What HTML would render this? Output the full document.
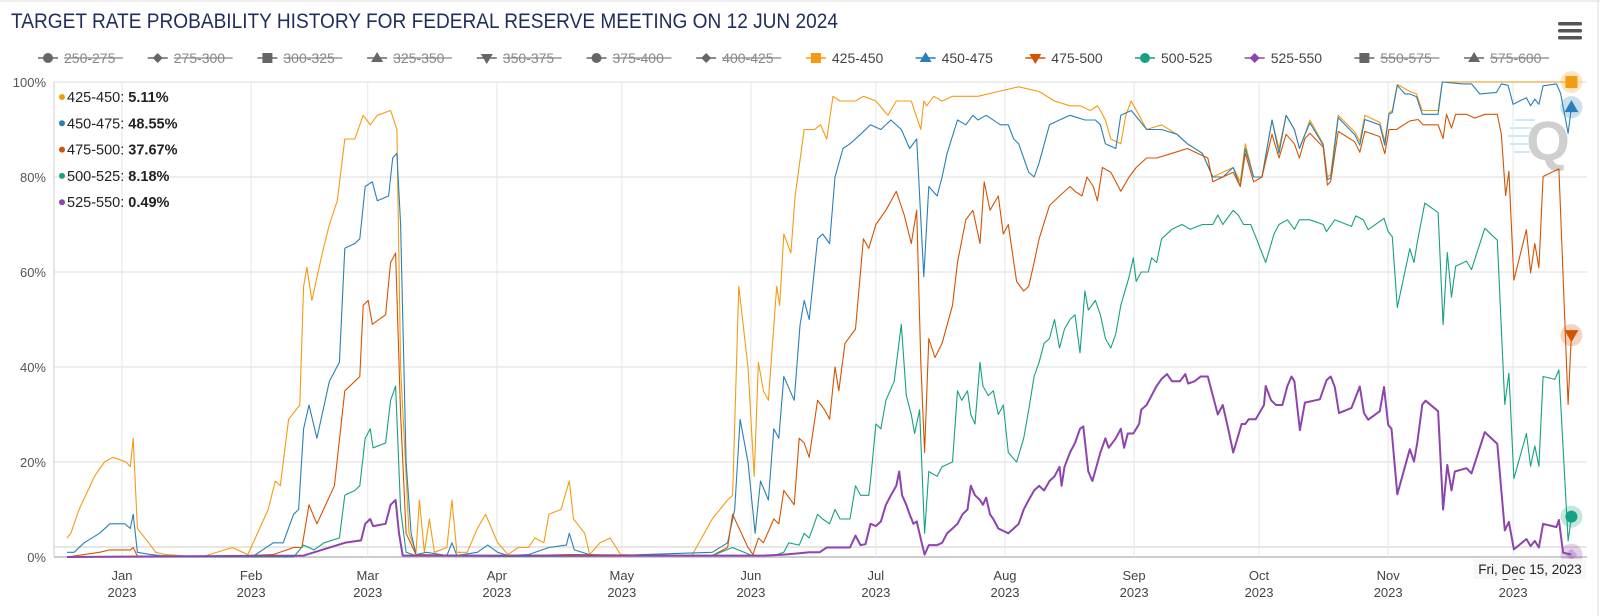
<!DOCTYPE html>
<html><head><meta charset="utf-8"><title>Target rate probability history</title>
<style>
html,body{margin:0;padding:0;background:#fff;}
svg{display:block;font-family:"Liberation Sans",sans-serif;}
</style></head>
<body>
<svg id="chart" width="1600" height="616" viewBox="0 0 1600 616" xmlns="http://www.w3.org/2000/svg">
<rect x="0" y="0" width="1600" height="616" fill="#fff"/>
<line x1="0" y1="1" x2="1600" y2="1" stroke="#ddd"/>
<line x1="1598" y1="0" x2="1598" y2="616" stroke="#ddd"/>
<text x="11" y="28" font-size="21" fill="#1f2d5c" textLength="827" lengthAdjust="spacingAndGlyphs">TARGET RATE PROBABILITY HISTORY FOR FEDERAL RESERVE MEETING ON 12 JUN 2024</text>
<g>
<rect x="1558" y="22" width="24" height="3.5" rx="1.5" fill="#555"/>
<rect x="1558" y="29" width="24" height="3.5" rx="1.5" fill="#555"/>
<rect x="1558" y="36" width="24" height="3.5" rx="1.5" fill="#555"/>
</g>
<g id="legend"></g>
<g id="grid"></g>
<g>
<text x="1548" y="160" font-size="56" font-weight="bold" fill="#cfcfcf" text-anchor="middle">Q</text>
<line x1="1515" y1="120" x2="1535" y2="120" stroke="#cde9f5" stroke-width="2"/>
<line x1="1510" y1="128" x2="1532" y2="128" stroke="#cde9f5" stroke-width="2"/>
<line x1="1508" y1="136" x2="1530" y2="136" stroke="#cde9f5" stroke-width="2"/>
<line x1="1510" y1="144" x2="1530" y2="144" stroke="#cde9f5" stroke-width="2"/>
<line x1="1514" y1="152" x2="1530" y2="152" stroke="#cde9f5" stroke-width="2"/>
</g>
<defs><clipPath id="plotclip"><rect x="54" y="78" width="1534" height="482"/></clipPath></defs>
<g id="series" clip-path="url(#plotclip)"></g>
<g id="markers"></g>
<g id="infobox"></g>
<g>
<rect x="1474" y="559" width="112" height="20" fill="#f7f7f7" opacity="0.95"/>
<text x="1530" y="574" font-size="13.5" fill="#222" text-anchor="middle">Fri, Dec 15, 2023</text>
</g>
</svg>
<script>
// ---- data ----
const monthLabels=["Jan","Feb","Mar","Apr","May","Jun","Jul","Aug","Sep","Oct","Nov","Dec"];
const monthStartDays=[0,31,59,90,120,151,181,212,243,273,304,334];
const yTicks=[0,20,40,60,80,100];
const legendLabels=["250-275","275-300","300-325","325-350","350-375","375-400","400-425","425-450","450-475","475-500","500-525","525-550","550-575","575-600"];
const legendActive=[false,false,false,false,false,false,false,true,true,true,true,true,false,false];
const infoLabels=["425-450","450-475","475-500","500-525","525-550"];
const infoValues=["5.11%","48.55%","37.67%","8.18%","0.49%"];

const d425=[-13.2,-12.3,-10.3,-6.6,-4.2,-2.2,1,2,2.7,3.7,6.4,8.1,10.5,19.1,26.5,30.2,35.1,36.8,38,40,42.7,43.6,44.4,45.6,48.1,49.8,51.7,53.5,55.9,57.9,59.6,61.3,64.5,66,66.9,68.9,70.6,71.4,72.6,73.8,75,78,79.2,80.4,82.9,85.3,87.3,90.2,92.7,95.1,97.6,99.1,101.3,102.5,105.4,107.4,108.4,111.1,112.3,114.8,117.2,119.7,129.5,136.8,141.7,145.4,146.6,148.1,150.3,151.8,152.8,154,155.2,157.2,157.9,158.9,160.6,161.6,163.8,166.3,167.7,169.2,170.7,172.4,173.6,176.1,178,181,182.9,183.9,185.9,189.5,191.8,192.5,193.2,194.9,196.9,199.4,205.5,210.4,215.3,220.2,223.9,227.6,230,232.5,234.2,234.9,236.1,237.4,239.8,241,242.3,244.2,246,249.6,253.3,255.8,259.4,261.9,264.3,266.8,268.5,269.7,271.7,273.7,276.1,277.8,279.5,281.5,282.7,284,285.2,288.4,289.4,290.2,292,296,297.2,298.4,302,303.2,304.2,305,306.2,309.2,310.8,312.2,316,317,348];
const v425=[4,5,10,17,20,21,20,19,25,6,3,1,0.5,0,2,0.5,10,16,15,29,32,57,61,54,64,70,75,88,88,93,91,93,94,90,40,5,1,12,1,8,1,2,12,1,1,6,9,3,0.5,2,2,4,3,9,10,16,8,5,0.5,3,4,0.5,0.2,0.3,8,12,13,57,40,17,41,35,33,57,53,68,64,76,90,90,91,88,97,96,96,96,97,96,94,93,96,96,90,96,95,97,96,97,97,98,99,98,96,95,95,94,95,94,92,88,87,93,96,93,90,91,89,87,85,80,81,82,79,87,80,80,92,86,93,90,86,89,92,87,80,80.5,93,89.5,87.5,93,91.5,87.5,93.5,94,99.5,98,97.5,94,94,100,100];

const d450=[-13.2,-11.5,-9.1,-5.4,-2.9,0.7,2,2.7,3.7,6.9,9.3,19.1,28.9,31.4,36.3,38.7,41.2,42.4,43.6,44.9,46.8,49.8,52.2,53.5,55.9,57.1,58.4,60.1,61.3,64,65,66,66.9,68.2,69.4,70.6,73.1,78,79.2,80.4,85.3,87.8,90.2,92.7,97.6,102.5,106.7,107.4,108.6,112.3,117.2,141.7,145.4,147.1,148.4,150.3,152,153.3,155.2,156.5,157.7,158.9,161.4,162.8,163.8,165,167,168.2,169.9,171.2,173.1,174.8,177.3,179.7,182.2,184.6,187.1,189.1,190.8,192.5,193.7,195.7,196.9,198.1,200.6,202.6,204.3,205.5,207.5,210.9,212.8,214.1,215.3,217.7,219,220.2,222.7,225.1,227.6,231.2,233.7,234.9,236.1,238.6,239.8,242.3,244.2,246,249.6,253.3,255.8,259.4,261.9,264.3,266.8,268.5,269.7,271.7,273.7,276.1,277.8,279.5,281.5,282.7,284,285.2,288.4,289.4,290.2,292,296,297.2,298.4,302,303.2,304.2,305,306.2,308,309.2,310.8,312.2,316,317,322,324,326,330,331.2,332.8,334,337.2,338.2,339.2,340.2,341.2,344.4,345.4,347.2,348];
const v450=[1,1,3,5,7,7,6,9,1,0.5,0.3,0,0.3,0.1,3,3,9,10,27,32,25,37,41,65,66,67,78,79,75,76,84,85,70,20,5,0.5,1,0.3,3,0.3,1,2.5,1,0.3,0.5,2,2.5,5,1.5,0.5,0.3,1,3,10,29,20,5,16,12,27,25,38,33,49,54,50,67,68,66,80,86,87,89,91,90,92,90,86,88,59,78,76,80,85,92,91,93,92,93,91,91,88,87,81,80,83,91,92,93,92,92,91,87,86,93,94,92,90,90,89,87,85,80,80,82,78,86,80,80,92,85,93,90,86,88.9,91.4,86.7,79.4,79.8,92.5,88.9,86.7,92.1,91,86.7,93.2,93.6,99.3,97.5,97.5,96.9,93.2,93.2,100,99.6,99.6,97.5,97.8,99.6,99.3,95.3,96.7,95,96.4,95.3,99.2,99.6,97.6,89.2,94.7];

const d475=[-13.2,-5.4,-2.9,2,2.7,3.7,19.1,36.3,41.2,43.2,44.9,46.8,51,53.5,55.9,57.1,57.9,59.1,60.1,63.3,64.5,65.7,66.9,68.2,70.6,92.7,107.4,141.7,145.4,146.6,150.3,151.5,152.8,154,156.5,157.7,158.9,161.4,162.6,163.8,165,167,168.7,169.9,171.2,172.1,173.6,176.1,178,179.3,181,183.4,185.9,187.8,189.5,190.8,191.8,192.7,193.7,195.2,196.9,199.4,200.6,202.6,204.3,206,207,208.4,210.4,211.6,212.8,214.8,216.5,217.7,219,220.2,222.7,225.1,227.6,228.8,230.5,231.7,233.2,234.2,235.4,237.4,239.8,241.8,243.5,246,248.4,252.1,255.8,258.2,260.7,261.9,264.3,266.8,268.5,269.7,271.7,273.7,276.1,277.8,279.5,281.5,282.7,284,285.2,288.4,289.4,290.2,292,296,297.2,298.4,302,303.2,304.2,306,309.2,311.2,312.4,316,317.2,318,319.2,320.2,322.8,324.8,327.2,330.2,331.2,332.2,333,334.2,337.2,338.2,339.2,340.2,341.2,345,347.2,348];
const v475=[0,1,1.5,1.5,2,0.2,0,0.5,2,2,11,7,15,35,37,38,53,54,49,51,62,64,30,5,0.5,0.2,0.5,0.3,2,9,2,0.5,4,3,8,7,14,11,25,24,21,33,31,29,40,35,45,48,67,65,70,73,77,72,66,73,41,22,46,42,45,53,62,71,73,66,79,73,76,68,70,58,56,57,62,67,74,76,78,77,76,80,78,75,82,81,77,80,82,84,84,85,86,85,84,79,80,81,78,85,79,80,89,84,89,87,84,88.1,89.2,86.3,78.3,79.1,89.6,87.4,85.2,89.6,88.5,84.9,90,90,91.8,92.1,91,91,88.1,93.2,90.3,93.2,93.2,92.4,93.2,93.2,88.9,76.1,81.2,58.3,68.9,59.8,66,60.9,80.1,81.7,32.1,46.7];

const d500=[-13.2,41.2,43.6,46.1,48.5,52.2,53.5,55.9,57.1,58.4,59.6,60.3,63.3,64.5,65.7,66.9,68.2,70.6,92.7,141.7,146.6,151.5,156.5,158.9,160.1,162.6,163.8,165,167,168.2,169.9,171.2,172.4,174.8,176.1,177.3,179.3,179.7,181,182.2,183.4,185.4,187.1,188.3,189.5,190.3,191.5,192.7,193.7,195.7,196.9,199.4,200.6,201.6,203,203.8,204.8,206,206.7,208,209.2,210.4,211.6,212.8,214.8,216.5,217.7,219,220.2,221.4,222.7,223.9,225.1,226.3,227.6,228.8,230,231.2,232,233.7,234.9,236.1,237.4,238.6,239.8,241.8,242.8,243.5,244.7,246.4,247.2,248.4,249.6,252.1,254.5,256.5,259.4,261.9,263.1,264.3,266.8,268,269.3,271,272.4,274.6,276.6,277.8,279.8,281.5,282.7,285.2,288.4,289.2,291.2,295.2,296.2,298,299.2,303,304,305,306.2,309.2,310.2,311,312.8,316,317.2,318.2,319.2,320.2,322.8,324,327.2,330.2,332,333,334.2,337.2,338.2,339.2,340.2,341.2,344,345,347.2,348];
const v500=[0,0,2.5,1.5,3,4,13,14,15,25,27,23,24,33,36,10,1,0.3,0.1,0.3,2,0.2,0.3,1,3,2.5,5,4,9,8,7,10,8,8,15,13,13,16,28,27,33,37,49,34,30,26,31,5,18,17,19,20,35,33,35,30,28,41,36,34,35,30,32,22,20,25,31,38,41,45,46,50,44,48,50,51,43,56,52,54,51,46,44,47,53,59,63,58,60,60,63,62,67,69,70,69,70,70,72,70,73,72,70,70,67,62,68,70,71,69,71,71,70,68.5,71,69.6,71.8,71,68.9,71.3,68.5,67.4,52.5,64.9,62,66.3,74.5,72.5,48.9,64.1,54.7,61.2,62.3,60.5,69.2,66.7,32.1,38.7,16.5,26,19.1,23.4,19.1,38,37.4,39.4,3.4,8.5];

const d525=[-13.2,43.6,53.5,55.9,57.4,58.4,59.6,60.3,63.3,64.5,65.7,66.5,67.4,151.5,154,158.9,162.6,165,167.5,169.2,172.4,174.8,176.1,177.3,178.5,179.7,181,182.2,183.4,184.6,185.9,186.6,187.3,188.3,189.1,190,190.8,192,192.7,193.7,195.7,196.9,198.1,199.4,200.6,201.8,203,203.8,204.8,206,206.7,207.5,208.4,209.2,210.4,212.8,214.1,215.3,216.5,217.7,219,220.2,221.4,222.7,223.9,225.1,225.6,226.3,227.6,228.8,230,230.8,232,233,234.9,236.1,236.9,238.6,239.8,240.6,241.5,242.8,243.5,244.2,244.7,246,247.2,248.4,249.6,250.9,252.1,254,255.3,256,257.5,259,260.7,261.9,263.1,264.3,265.6,266.8,267.5,268.8,269.7,270.5,272.2,274.2,274.6,275.9,277.1,278.6,279.8,280.8,281.5,282.8,284,287.6,289.2,290.2,291.2,292.2,295.2,297.2,298.2,299.2,302,303,304,304.8,306.2,309.2,310.2,311,312.2,313,316,317.2,318.2,319.2,320,322.8,324,327.2,330.2,332,333,334.2,337.2,338.2,339.2,340.2,341.2,344.4,345,346,348];
const v525=[0,0.3,3,3.3,3.5,7,8,6.5,7,11,12,5,0.3,0.3,0.3,0.5,0.8,1,1,2,2,2,4.5,2.5,2.7,7,6.5,7.5,11,13,15,18,13,11,9,7,7.5,3,0.5,2.5,2.5,3,5,6,7,9,10,15,13,12,11,12.5,9,8,6,5,6,7,10,12,14,15,14,16,17,19,15,19,22,24,27,27.5,18,16,22,25,23,25,27,23,26,26,27,28,31,32,34,36,37.5,38.5,37,37,38.5,36.5,37,38,38,34,30,32,27,22,24,28,28,29,29,32,36,33,32,32,36,38,37,26.7,32.5,33.2,37.2,38,35.8,30.3,31.4,35.9,30.3,28.9,30.7,35.8,27.8,27,13.2,22.7,20.1,24.1,32.1,32.9,30.7,10,19.4,14,18,18.7,17.6,26.3,23.8,5.6,7.4,1.6,3.8,2.3,3.4,2,7,6.3,7.8,0.9,0.5];

// ---- axes ----
const X0=122, PXD=4.165, Y0=557, PXV=4.75;
function xScale(d){return X0+d*PXD;}
function yScale(v){return Y0-v*PXV;}
const NS="http://www.w3.org/2000/svg";
function mk(tag,attrs,parent){const e=document.createElementNS(NS,tag);for(const k in attrs)e.setAttribute(k,attrs[k]);parent.appendChild(e);return e;}

const grid=document.getElementById('grid');
yTicks.forEach(t=>{
  const l=mk('line',{x1:54,x2:1587,y1:yScale(t),y2:yScale(t),stroke:t===0?'#bbb':'#e3e3e3','stroke-width':t===0?1.5:1.2},grid);
  
  
  const tx=mk('text',{x:46,y:yScale(t)+5,'font-size':13,fill:'#555','text-anchor':'end'},grid);
  tx.textContent=t+'%';
  
  
});
const extra=mk('line',{x1:54,x2:1587,y1:yScale(2.1),y2:yScale(2.1),stroke:'#ddd','stroke-width':1.5},grid);


const yaxis=mk('line',{x1:54,x2:54,y1:82,y2:557,stroke:'#ccc'},grid);


monthStartDays.forEach((d,i)=>{
  const x=xScale(d);
  const l=mk('line',{x1:x,x2:x,y1:82,y2:557,stroke:'#e6e6e6','stroke-width':1},grid);
  
  
  const t1=mk('text',{x:x,y:580,'font-size':13,fill:'#444','text-anchor':'middle'},grid);
  t1.textContent=monthLabels[i];
  
  
  const t2=mk('text',{x:x,y:597,'font-size':13,fill:'#444','text-anchor':'middle'},grid);
  t2.textContent='2023';
  
  
});

// ---- series ----
const colors=["#f39c12","#2980b9","#d35400","#16a085","#8e44ad"];
const seriesDays=[d425,d450,d475,d500,d525];
const seriesVals=[v425,v450,v475,v500,v525];
const seriesNames=["series-425-450","series-450-475","series-475-500","series-500-525","series-525-550"];
const sg=document.getElementById('series');
seriesDays.forEach((ds,i)=>{
  const vs=seriesVals[i];
  const pts=ds.map((d,j)=>xScale(d).toFixed(1)+','+yScale(vs[j]).toFixed(1)).join(' ');
  const p=mk('polyline',{points:pts,fill:'none',stroke:colors[i],'stroke-width':i===4?2:1.1,'stroke-linejoin':'round'},sg);
  
  
});
// end markers
const mg=document.getElementById('markers');
const shapes=['square','tri','tridown','circle','diamond'];
seriesDays.forEach((ds,i)=>{
  const vs=seriesVals[i];
  const x=xScale(ds[ds.length-1]), y=yScale(vs[vs.length-1]);
  const g=mk('g',{},mg);
  
  
  mk('circle',{cx:x,cy:y,r:11,fill:colors[i],opacity:0.25},g);
  const s=shapes[i];
  if(s==='square')mk('rect',{x:x-6,y:y-6,width:12,height:12,fill:colors[i]},g);
  else if(s==='tri')mk('path',{d:`M${x},${y-7}L${x+7},${y+5}L${x-7},${y+5}Z`,fill:colors[i]},g);
  else if(s==='tridown')mk('path',{d:`M${x-7},${y-5}L${x+7},${y-5}L${x},${y+7}Z`,fill:colors[i]},g);
  else if(s==='circle')mk('circle',{cx:x,cy:y,r:6,fill:colors[i]},g);
  else mk('path',{d:`M${x},${y-6}L${x+6},${y}L${x},${y+6}L${x-6},${y}Z`,fill:colors[i],opacity:0.3},g);
});

// ---- legend ----
const lg=document.getElementById('legend');
const legColors=["#666","#666","#666","#666","#666","#666","#666","#f39c12","#2980b9","#d35400","#16a085","#8e44ad","#666","#666"];
const legShapes=['circle','diamond','square','tri','tridown','circle','diamond','square','tri','tridown','circle','diamond','square','tri'];
legendLabels.forEach((lab,i)=>{
  const x=48+i*109.7, y=58;
  const g=mk('g',{},lg);
  
  
  const c=legColors[i];
  mk('line',{x1:x-10,x2:x+10,y1:y,y2:y,stroke:c,'stroke-width':1.5},g);
  const s=legShapes[i];
  if(s==='square')mk('rect',{x:x-5,y:y-5,width:10,height:10,fill:c},g);
  else if(s==='tri')mk('path',{d:`M${x},${y-6}L${x+6},${y+4}L${x-6},${y+4}Z`,fill:c},g);
  else if(s==='tridown')mk('path',{d:`M${x-6},${y-4}L${x+6},${y-4}L${x},${y+6}Z`,fill:c},g);
  else if(s==='circle')mk('circle',{cx:x,cy:y,r:5,fill:c},g);
  else mk('path',{d:`M${x},${y-5}L${x+5},${y}L${x},${y+5}L${x-5},${y}Z`,fill:c},g);
  const t=mk('text',{x:x+16,y:y+5,'font-size':14,fill:legendActive[i]?'#444':'#888'},g);
  t.textContent=lab;
  if(!legendActive[i]){mk('line',{x1:x+16,x2:x+75,y1:y,y2:y,stroke:'#888','stroke-width':1.2},g);}
});

// ---- value overlay ----
const ib=document.getElementById('infobox');
infoLabels.forEach((lab,i)=>{
  const y=102+i*26.3;
  const g=mk('g',{},ib);
  
  
  mk('circle',{cx:62,cy:y-5,r:3,fill:colors[i]},g);
  const t=mk('text',{x:67,y:y,'font-size':14.5,fill:'#222'},g);
  t.textContent=lab+': ';
  const b=mk('tspan',{'font-weight':'bold'},t);
  b.textContent=infoValues[i];
});
</script>
</body></html>
